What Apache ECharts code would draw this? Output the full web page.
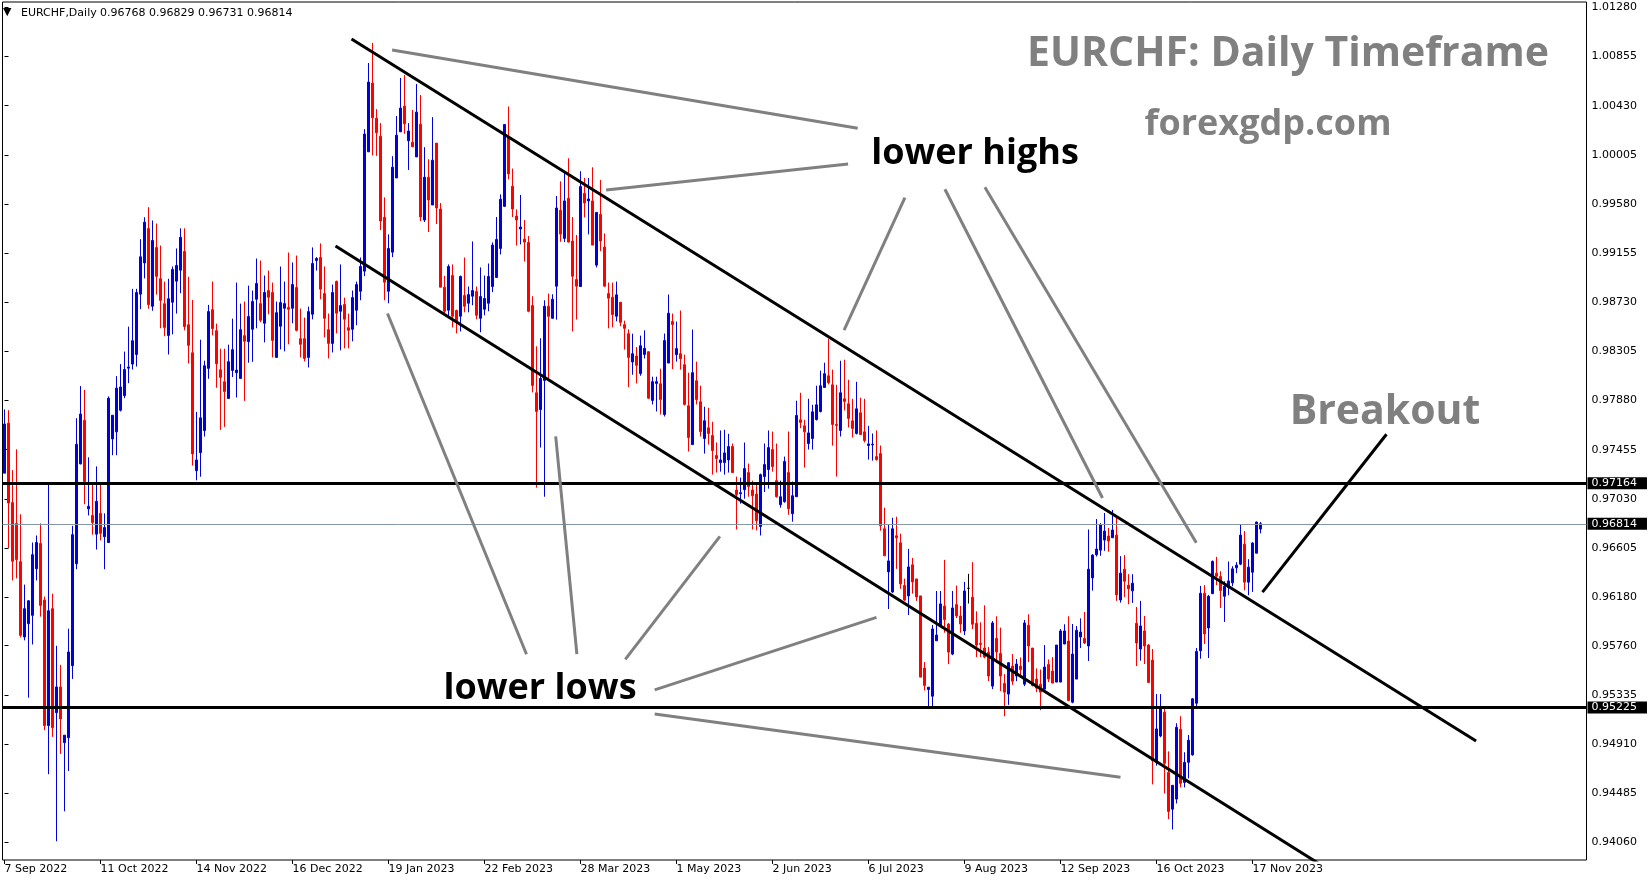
<!DOCTYPE html>
<html>
<head>
<meta charset="utf-8">
<title>EURCHF Daily</title>
<script src="https://cdn.jsdelivr.net/npm/echarts@6/dist/echarts.min.js"></script>
<style>
  html, body { margin: 0; padding: 0; background: #ffffff; }
  #chart { width: 1649px; height: 884px; }
</style>
</head>
<body>
<div id="chart"></div>
<script>
// ---- Instrument and calendar ----
const symbolName = 'EURCHF,Daily';
const firstTradingDay = '2022-09-07';
const emptySlotsRight = 81;           // blank space to the right of the last bar
const dateLabelEvery = 24;            // one date label every 24 bars

// ---- Daily OHLC ----
const opens = [
  0.97252,0.97684,0.96997,0.96817,0.96486,0.95835,0.95950,0.96022,0.96425,0.96644,
  0.96155,0.95069,0.96080,0.95180,0.95403,0.94921,0.94964,0.95587,0.96468,0.97332,
  0.97709,0.96943,0.96886,0.96724,0.96904,0.96702,0.96652,0.97548,0.97609,0.97796,
  0.97922,0.98160,0.98195,0.98278,0.98800,0.99070,0.99368,0.98695,0.99203,0.98933,
  0.98717,0.98443,0.98730,0.98912,0.99007,0.99169,0.98536,0.98293,0.97273,0.97429,
  0.97620,0.98158,0.98666,0.98484,0.98146,0.98042,0.97898,0.98140,0.98120,0.98071,
  0.98441,0.98389,0.98496,0.98756,0.98718,0.98548,0.98831,0.98814,0.98253,0.98522,
  0.98678,0.98684,0.98678,0.98857,0.98415,0.98415,0.98253,0.98626,0.99091,0.99117,
  0.98805,0.98493,0.98374,0.98909,0.98652,0.98710,0.98510,0.98496,0.98661,0.98825,
  0.98999,1.00031,1.00626,1.00322,1.00166,0.99464,0.98825,0.99163,0.99805,1.00204,
  1.00426,1.00126,1.00114,0.99987,1.00270,0.99441,0.99811,0.99571,1.00106,0.99536,
  0.98860,0.98661,0.98961,0.98658,0.98609,0.98788,0.98721,0.98782,0.98822,0.98591,
  0.98669,0.98721,0.98866,0.98944,0.99195,0.99559,1.00160,0.99733,0.99475,0.99363,
  0.99276,0.99247,0.98701,0.97947,0.97802,0.98054,0.98695,0.98591,0.98869,0.99525,
  0.99282,0.99629,0.99259,0.98926,0.98866,0.99672,0.99606,0.99606,0.99051,0.99490,
  0.99207,0.98805,0.98773,0.98609,0.98730,0.98536,0.98458,0.98213,0.98265,0.98114,
  0.98279,0.98302,0.97881,0.98028,0.98025,0.97759,0.98204,0.98563,0.98277,0.98285,
  0.98190,0.97835,0.97499,0.98051,0.97869,0.97551,0.97644,0.97577,0.97404,0.97343,
  0.97343,0.97366,0.97482,0.97106,0.97074,0.97109,0.97257,0.97106,0.97071,0.96791,
  0.97222,0.97283,0.97456,0.97187,0.96979,0.97005,0.97257,0.96901,0.97048,0.97713,
  0.97661,0.97508,0.97551,0.97716,0.97785,0.97993,0.98094,0.98016,0.97673,0.97621,
  0.97895,0.97852,0.97704,0.97595,0.97774,0.97609,0.97491,0.97496,0.97395,0.97421,
  0.96771,0.96398,0.96225,0.96710,0.96649,0.96280,0.96190,0.96459,0.96337,0.96190,
  0.95566,0.95381,0.95323,0.95802,0.95939,0.96103,0.95947,0.95687,0.96115,0.96017,
  0.95887,0.96256,0.96179,0.95953,0.95780,0.95739,0.95702,0.95410,0.95823,0.95693,
  0.95433,0.95341,0.95583,0.95497,0.95583,0.95427,0.95936,0.95739,0.95471,0.95427,
  0.95384,0.95598,0.95540,0.95445,0.95445,0.95774,0.95800,0.95271,0.95471,0.95835,
  0.95823,0.95757,0.96346,0.96546,0.96586,0.96673,0.96708,0.96693,0.96716,0.96155,
  0.96421,0.96283,0.96234,0.95953,0.95731,0.95887,0.95765,0.95635,0.94751,0.94979,
  0.95184,0.94664,0.94346,0.94433,0.95037,0.94577,0.94751,0.94815,0.95262,0.95716,
  0.96213,0.95913,0.96210,0.96387,0.96358,0.96187,0.96262,0.96303,0.96433,0.96465,
  0.96638,0.96309,0.96395,0.96560,0.96768
];
const highs = [
  0.97803,0.97796,0.97278,0.97458,0.96896,0.96288,0.96155,0.96652,0.96713,0.96817,
  0.96184,0.97152,0.96209,0.95759,0.95594,0.94986,0.95907,0.96796,0.97727,0.98005,
  0.97972,0.97389,0.97155,0.97310,0.97155,0.96904,0.97915,0.97753,0.98091,0.98195,
  0.98303,0.98519,0.98846,0.98846,0.99275,0.99465,0.99552,0.99437,0.99411,0.99221,
  0.98908,0.98933,0.99039,0.99195,0.99369,0.99369,0.98950,0.98750,0.97782,0.98406,
  0.98224,0.98707,0.98909,0.98545,0.98328,0.98328,0.98363,0.98588,0.98900,0.98718,
  0.98736,0.98874,0.98831,0.99108,0.99091,0.98961,0.99004,0.98900,0.98736,0.99039,
  0.98909,0.99160,0.99074,0.99134,0.98675,0.98597,0.98692,0.99204,0.99120,0.99239,
  0.99039,0.98632,0.98883,0.98918,0.99057,0.98770,0.98632,0.98831,0.98909,0.99117,
  1.00227,1.00799,1.00973,1.00400,1.00279,0.99637,0.99317,0.99993,1.00340,1.00669,
  1.00695,1.00279,1.00392,1.00617,1.00522,1.00071,0.99967,1.00331,1.00106,0.99588,
  0.98958,0.99057,0.99057,0.98666,0.98961,0.99117,0.98866,0.99256,0.98866,0.99031,
  0.98961,0.99065,0.99247,0.99467,0.99663,1.00267,1.00423,0.99886,0.99533,0.99658,
  0.99441,0.99302,0.98782,0.98349,0.98418,0.98747,0.98805,0.98799,0.99649,0.99776,
  0.99845,0.99975,0.99467,0.99311,0.99863,0.99805,0.99805,0.99897,0.99507,0.99788,
  0.99325,0.98900,0.98900,0.98909,0.98730,0.98571,0.98496,0.98458,0.98343,0.98441,
  0.98487,0.98302,0.98086,0.98086,0.98155,0.98459,0.98797,0.98632,0.98563,0.98658,
  0.98277,0.98121,0.98494,0.98216,0.98008,0.97826,0.97817,0.97696,0.97517,0.97621,
  0.97627,0.97592,0.97508,0.97222,0.97213,0.97517,0.97335,0.97187,0.97152,0.97248,
  0.97508,0.97621,0.97612,0.97508,0.97187,0.97395,0.97612,0.97179,0.97878,0.97947,
  0.97713,0.97895,0.97843,0.98008,0.98138,0.98207,0.98415,0.98147,0.98016,0.98224,
  0.98233,0.98060,0.97895,0.98042,0.97904,0.97895,0.97661,0.97595,0.97621,0.97491,
  0.96953,0.96803,0.96866,0.96875,0.96728,0.96340,0.96597,0.96519,0.96337,0.96190,
  0.95618,0.95401,0.95939,0.96233,0.96233,0.96502,0.95956,0.96233,0.96280,0.96103,
  0.96311,0.96381,0.96482,0.96057,0.95962,0.96109,0.95748,0.95973,0.96014,0.95916,
  0.95514,0.95618,0.95687,0.95644,0.95658,0.95982,0.96031,0.95739,0.95563,0.95554,
  0.95765,0.95641,0.95661,0.95765,0.95904,0.95945,0.96014,0.95947,0.95930,0.95996,
  0.96052,0.96765,0.96551,0.96855,0.96820,0.96907,0.96777,0.96933,0.96881,0.96534,
  0.96543,0.96378,0.96378,0.96095,0.96147,0.96017,0.95774,0.95731,0.95341,0.95341,
  0.95219,0.94846,0.94552,0.95089,0.95150,0.94838,0.94988,0.95306,0.95740,0.96277,
  0.96283,0.96199,0.96497,0.96528,0.96404,0.96317,0.96488,0.96447,0.96482,0.96806,
  0.96751,0.96508,0.96655,0.96832,0.96829
];
const lows = [
  0.97252,0.96605,0.96324,0.96342,0.95831,0.95806,0.95310,0.95770,0.96324,0.96011,
  0.95029,0.94648,0.94971,0.94068,0.94824,0.94327,0.94676,0.95472,0.96421,0.97328,
  0.96983,0.96886,0.96720,0.96591,0.96670,0.96421,0.96652,0.97407,0.97407,0.97785,
  0.97900,0.98030,0.98148,0.98174,0.98670,0.98936,0.98674,0.98656,0.98796,0.98505,
  0.98436,0.98278,0.98452,0.98632,0.98808,0.98487,0.98201,0.97317,0.97190,0.97221,
  0.97568,0.98068,0.98444,0.97990,0.97626,0.97652,0.97898,0.98083,0.97906,0.98071,
  0.97877,0.98207,0.98215,0.98505,0.98557,0.98383,0.98626,0.98253,0.98253,0.98322,
  0.98305,0.98366,0.98548,0.98478,0.98253,0.98218,0.98166,0.98582,0.99004,0.98756,
  0.98426,0.98244,0.98296,0.98461,0.98314,0.98331,0.98331,0.98392,0.98531,0.98747,
  0.98955,1.00031,1.00000,0.99996,0.99354,0.98747,0.98721,0.99120,0.99805,1.00204,
  1.00187,0.99874,1.00074,0.99987,0.99432,0.99424,0.99337,0.99571,0.99406,0.98860,
  0.98635,0.98609,0.98513,0.98461,0.98478,0.98643,0.98643,0.98704,0.98583,0.98470,
  0.98617,0.98652,0.98817,0.98940,0.99143,0.99556,0.99793,0.99467,0.99221,0.99230,
  0.99083,0.98643,0.97950,0.97126,0.97473,0.97048,0.98059,0.98586,0.98579,0.99253,
  0.99250,0.99247,0.98478,0.98580,0.98866,0.99464,0.99317,0.99224,0.99031,0.99172,
  0.98866,0.98504,0.98513,0.98565,0.98522,0.98320,0.97996,0.98103,0.98028,0.98094,
  0.98244,0.97895,0.97846,0.97785,0.97759,0.97742,0.98204,0.98152,0.98216,0.98147,
  0.97837,0.97439,0.97499,0.97846,0.97569,0.97421,0.97499,0.97239,0.97257,0.97265,
  0.97239,0.97257,0.97257,0.96765,0.96988,0.97031,0.97048,0.96765,0.96757,0.96713,
  0.97089,0.97118,0.97265,0.97040,0.96953,0.96996,0.96892,0.96832,0.97048,0.97640,
  0.97300,0.97456,0.97456,0.97707,0.97777,0.97993,0.98019,0.97490,0.97222,0.97569,
  0.97794,0.97647,0.97560,0.97586,0.97586,0.97517,0.97369,0.97360,0.97360,0.96754,
  0.96537,0.96077,0.96216,0.96424,0.96251,0.96147,0.96025,0.96210,0.96147,0.95488,
  0.95372,0.95228,0.95228,0.95802,0.95921,0.95872,0.95600,0.95678,0.95999,0.95872,
  0.95852,0.96124,0.95904,0.95661,0.95661,0.95650,0.95453,0.95384,0.95609,0.95367,
  0.95150,0.95248,0.95421,0.95453,0.95485,0.95410,0.95618,0.95407,0.95358,0.95202,
  0.95384,0.95445,0.95436,0.95445,0.95445,0.95774,0.95280,0.95262,0.95471,0.95739,
  0.95774,0.95627,0.96236,0.96531,0.96537,0.96580,0.96572,0.96693,0.96147,0.96132,
  0.96181,0.96118,0.96130,0.95583,0.95630,0.95601,0.95436,0.94560,0.94722,0.94968,
  0.94482,0.94260,0.94170,0.94395,0.94534,0.94534,0.94612,0.94809,0.95230,0.95647,
  0.95774,0.95653,0.96205,0.96283,0.96086,0.95965,0.96196,0.96274,0.96387,0.96456,
  0.96239,0.96196,0.96225,0.96560,0.96731
];
const closes = [
  0.97677,0.96993,0.96490,0.96504,0.95849,0.96080,0.96148,0.96547,0.96652,0.96108,
  0.95069,0.96062,0.95050,0.95403,0.95126,0.94986,0.95705,0.96720,0.97501,0.97763,
  0.97180,0.96965,0.96824,0.97008,0.96731,0.96781,0.97900,0.97753,0.97987,0.97997,
  0.98148,0.98170,0.98397,0.98814,0.99123,0.99422,0.98710,0.99264,0.98954,0.98746,
  0.98512,0.98760,0.99013,0.99048,0.99291,0.98519,0.98357,0.97418,0.97366,0.97730,
  0.98181,0.98649,0.98502,0.98198,0.98080,0.97958,0.98216,0.98320,0.98143,0.98493,
  0.98392,0.98606,0.98736,0.98892,0.98574,0.98814,0.98773,0.98400,0.98640,0.98727,
  0.98718,0.98669,0.98883,0.98487,0.98366,0.98244,0.98649,0.99065,0.99109,0.98843,
  0.98591,0.98374,0.98814,0.98635,0.98701,0.98583,0.98487,0.98770,0.98883,0.99039,
  1.00184,1.00634,1.00325,1.00195,0.99432,0.98903,0.99195,0.99898,1.00175,1.00409,
  1.00273,1.00210,1.00074,1.00374,0.99467,0.99811,0.99614,0.99958,0.99545,0.98860,
  0.98652,0.99039,0.98609,0.98565,0.98953,0.98695,0.98796,0.98831,0.98617,0.98779,
  0.98762,0.98953,0.99224,0.99273,0.99620,1.00267,0.99840,0.99536,0.99441,0.99380,
  0.99250,0.98652,0.98010,0.97785,0.98071,0.98695,0.98608,0.98756,0.99545,0.99319,
  0.99606,0.99250,0.98955,0.98869,0.99730,0.99588,0.99623,0.99224,0.99507,0.99259,
  0.98869,0.98765,0.98623,0.98794,0.98556,0.98504,0.98253,0.98285,0.98184,0.98354,
  0.98331,0.97900,0.98043,0.98043,0.97889,0.98398,0.98635,0.98537,0.98329,0.98242,
  0.97846,0.97560,0.98121,0.97889,0.97612,0.97705,0.97595,0.97447,0.97378,0.97366,
  0.97427,0.97482,0.97257,0.97066,0.97083,0.97291,0.97135,0.97057,0.96840,0.97239,
  0.97326,0.97473,0.97309,0.97048,0.97048,0.97352,0.96944,0.97057,0.97751,0.97690,
  0.97609,0.97600,0.97782,0.97843,0.98008,0.98112,0.98034,0.97673,0.97664,0.97947,
  0.97872,0.97725,0.97638,0.97808,0.97586,0.97534,0.97505,0.97502,0.97369,0.96797,
  0.96537,0.96493,0.96771,0.96693,0.96294,0.96155,0.96441,0.96311,0.96181,0.95488,
  0.95416,0.95401,0.95904,0.95852,0.96121,0.95985,0.95704,0.96086,0.96017,0.95947,
  0.96233,0.96256,0.95945,0.95765,0.95771,0.95661,0.95497,0.95956,0.95705,0.95497,
  0.95358,0.95612,0.95453,0.95601,0.95552,0.95956,0.95757,0.95416,0.95393,0.95358,
  0.95575,0.95471,0.95436,0.95765,0.95887,0.95887,0.95286,0.95687,0.95893,0.95878,
  0.95783,0.96421,0.96543,0.96595,0.96803,0.96751,0.96664,0.96760,0.96199,0.96387,
  0.96317,0.96251,0.96300,0.95783,0.95930,0.95757,0.95442,0.94765,0.95040,0.95219,
  0.94742,0.94326,0.94552,0.95054,0.94569,0.94751,0.94942,0.95300,0.95710,0.96213,
  0.95861,0.96187,0.96488,0.96361,0.96236,0.96274,0.96320,0.96424,0.96456,0.96716,
  0.96309,0.96439,0.96647,0.96829,0.96814
];

// ---- Price scale labels ----
const priceTicks = [
  1.01280, 1.00855, 1.00430, 1.00005, 0.99580, 0.99155, 0.98730, 0.98305, 0.97880,
  0.97455, 0.97030, 0.96605, 0.96180, 0.95760, 0.95335, 0.94910, 0.94485, 0.94060
];
const priceMin = 0.939062;
const priceMax = 1.013265;

// ---- Horizontal levels ----
const resistanceLevel = 0.97164;
const supportLevel = 0.95225;

// ---- Drawn objects: [barIndex, price] end points ----
const channelTop = [[86.75, 1.01006], [367.9, 0.94935]];
const channelBottom = [[82.75, 0.99216], [331.5, 0.93812]];
const breakoutPointer = [[314.5, 0.96223], [345.5, 0.97588]];
const lowerHighPointers = [
  [[96.9, 1.00911], [213.3, 1.00234]],
  [[150.4, 0.99701], [210.9, 0.99925]],
  [[209.9, 0.98488], [225.1, 0.99634]],
  [[235.1, 0.99707], [274.5, 0.97037]],
  [[245.1, 0.99725], [297.95, 0.96650]]
];
const lowerLowPointers = [
  [[95.75, 0.98633], [130.5, 0.95686]],
  [[137.8, 0.97569], [143.1, 0.95686]],
  [[178.85, 0.96705], [155.2, 0.95641]],
  [[218.0, 0.96005], [162.55, 0.95377]],
  [[162.55, 0.95168], [279.0, 0.94622]]
];

// ---- Build categories (trading days, Mon-Fri) ----
const monthNames = ['Jan','Feb','Mar','Apr','May','Jun','Jul','Aug','Sep','Oct','Nov','Dec'];
function tradingDays(start, count) {
  const out = [];
  const d = new Date(start + 'T00:00:00Z');
  while (out.length < count) {
    const wd = d.getUTCDay();
    if (wd !== 0 && wd !== 6) {
      out.push(d.getUTCDate() + ' ' + monthNames[d.getUTCMonth()] + ' ' + d.getUTCFullYear());
    }
    d.setUTCDate(d.getUTCDate() + 1);
  }
  return out;
}
const barCount = opens.length;
const dates = tradingDays(firstTradingDay, barCount);
const categories = dates.concat(new Array(emptySlotsRight).fill(''));
const slotCount = categories.length;

const BULL = '#0000d8';
const BEAR = '#ff0000';

const candleData = opens.map((o, i) => {
  const v = [o, closes[i], lows[i], highs[i]];
  if (o === closes[i]) {
    return { value: v, itemStyle: { color: '#000', color0: '#000', borderColor: '#000', borderColor0: '#000' } };
  }
  return v;
});

const last = barCount - 1;
const lastClose = closes[last];
const headerValues = [opens[last], highs[last], lows[last], closes[last]].map(v => v.toFixed(5)).join(' ');

const showDate = (index) => index % dateLabelEvery === 0 && index < barCount;

function segment(points, color, width) {
  return {
    type: 'line',
    xAxisIndex: 1,
    yAxisIndex: 0,
    data: points,
    symbol: 'none',
    silent: true,
    clip: true,
    animation: false,
    lineStyle: { color: color, width: width, cap: 'butt' },
    z: 5
  };
}

const levelLabel = {
  show: true,
  position: 'end',
  distance: 1,
  formatter: p => Number(p.value).toFixed(5),
  backgroundColor: '#000000',
  color: '#ffffff',
  fontFamily: 'DejaVu Sans',
  fontSize: 11,
  padding: [1, 10, 0, 4]
};

const series = [
  {
    type: 'candlestick',
    xAxisIndex: 0,
    yAxisIndex: 0,
    data: candleData,
    barWidth: 2,
    animation: false,
    silent: true,
    itemStyle: {
      color: BULL, color0: BEAR,
      borderColor: BULL, borderColor0: BEAR,
      borderWidth: 1
    },
    markLine: {
      silent: true,
      precision: 5,
      symbol: ['none', 'none'],
      animation: false,
      data: [
        { yAxis: lastClose, lineStyle: { color: '#8496a8', width: 1, type: 'solid' }, label: levelLabel },
        { yAxis: resistanceLevel, lineStyle: { color: '#000', width: 3, type: 'solid' }, label: levelLabel },
        { yAxis: supportLevel, lineStyle: { color: '#000', width: 3, type: 'solid' }, label: levelLabel }
      ]
    }
  },
  segment(channelTop, '#000000', 3),
  segment(channelBottom, '#000000', 3),
  segment(breakoutPointer, '#000000', 3)
];
lowerHighPointers.concat(lowerLowPointers).forEach(s => series.push(segment(s, '#808080', 3)));

const labelFont = { fontFamily: 'DejaVu Sans', fontSize: 11, color: '#000' };

const option = {
  animation: false,
  backgroundColor: '#ffffff',
  grid: {
    left: 2.5, right: 62.5, top: 2, bottom: 24,
    show: true, borderColor: '#000', borderWidth: 1
  },
  xAxis: [
    {
      type: 'category',
      data: categories,
      boundaryGap: true,
      axisLine: { show: false },
      axisTick: {
        show: true, alignWithLabel: true, length: 4,
        interval: showDate,
        lineStyle: { color: '#000', width: 1 }
      },
      axisLabel: Object.assign({
        interval: showDate,
        align: 'left',
        margin: 4
      }, labelFont),
      splitLine: { show: false }
    },
    {
      type: 'value',
      min: -0.5,
      max: slotCount - 0.5,
      show: false
    }
  ],
  yAxis: [
    {
      type: 'value',
      position: 'right',
      min: priceMin,
      max: priceMax,
      axisLine: { show: false },
      axisTick: {
        show: true, length: 4,
        customValues: priceTicks,
        lineStyle: { color: '#000', width: 1 }
      },
      axisLabel: Object.assign({
        customValues: priceTicks,
        margin: 5,
        formatter: v => Number(v).toFixed(5)
      }, labelFont),
      splitLine: { show: false }
    }
  ],
  series: series,
  graphic: [
    { type: 'text', x: 3, y: 12, z: 100, style: { text: '▼', fontFamily: 'DejaVu Sans', fontSize: 11, fill: '#000', verticalAlign: 'middle' } },
    { type: 'text', x: 21, y: 13, z: 100, style: { text: symbolName, fontFamily: 'DejaVu Sans', fontSize: 11, fill: '#000', verticalAlign: 'middle' } },
    { type: 'text', x: 100, y: 13, z: 100, style: { text: headerValues, fontFamily: 'DejaVu Sans', fontSize: 11, fill: '#000', verticalAlign: 'middle' } },
    { type: 'text', x: 1288, y: 54, z: 100, style: { text: 'EURCHF: Daily Timeframe', fontFamily: 'Open Sans', fontWeight: 'bold', fontSize: 41, fill: '#808080', align: 'center', verticalAlign: 'middle' } },
    { type: 'text', x: 1268, y: 125, z: 100, style: { text: 'forexgdp.com', fontFamily: 'Open Sans', fontWeight: 'bold', fontSize: 36, fill: '#808080', align: 'center', verticalAlign: 'middle' } },
    { type: 'text', x: 975, y: 154, z: 100, style: { text: 'lower highs', fontFamily: 'Open Sans', fontWeight: 'bold', fontSize: 36, fill: '#000', align: 'center', verticalAlign: 'middle' } },
    { type: 'text', x: 540, y: 689, z: 100, style: { text: 'lower lows', fontFamily: 'Open Sans', fontWeight: 'bold', fontSize: 36, fill: '#000', align: 'center', verticalAlign: 'middle' } },
    { type: 'text', x: 1385, y: 412, z: 100, style: { text: 'Breakout', fontFamily: 'Open Sans', fontWeight: 'bold', fontSize: 41, fill: '#808080', align: 'center', verticalAlign: 'middle' } }
  ]
};

const chart = echarts.init(document.getElementById('chart'), null, { renderer: 'canvas' });
chart.setOption(option);
</script>
</body>
</html>
